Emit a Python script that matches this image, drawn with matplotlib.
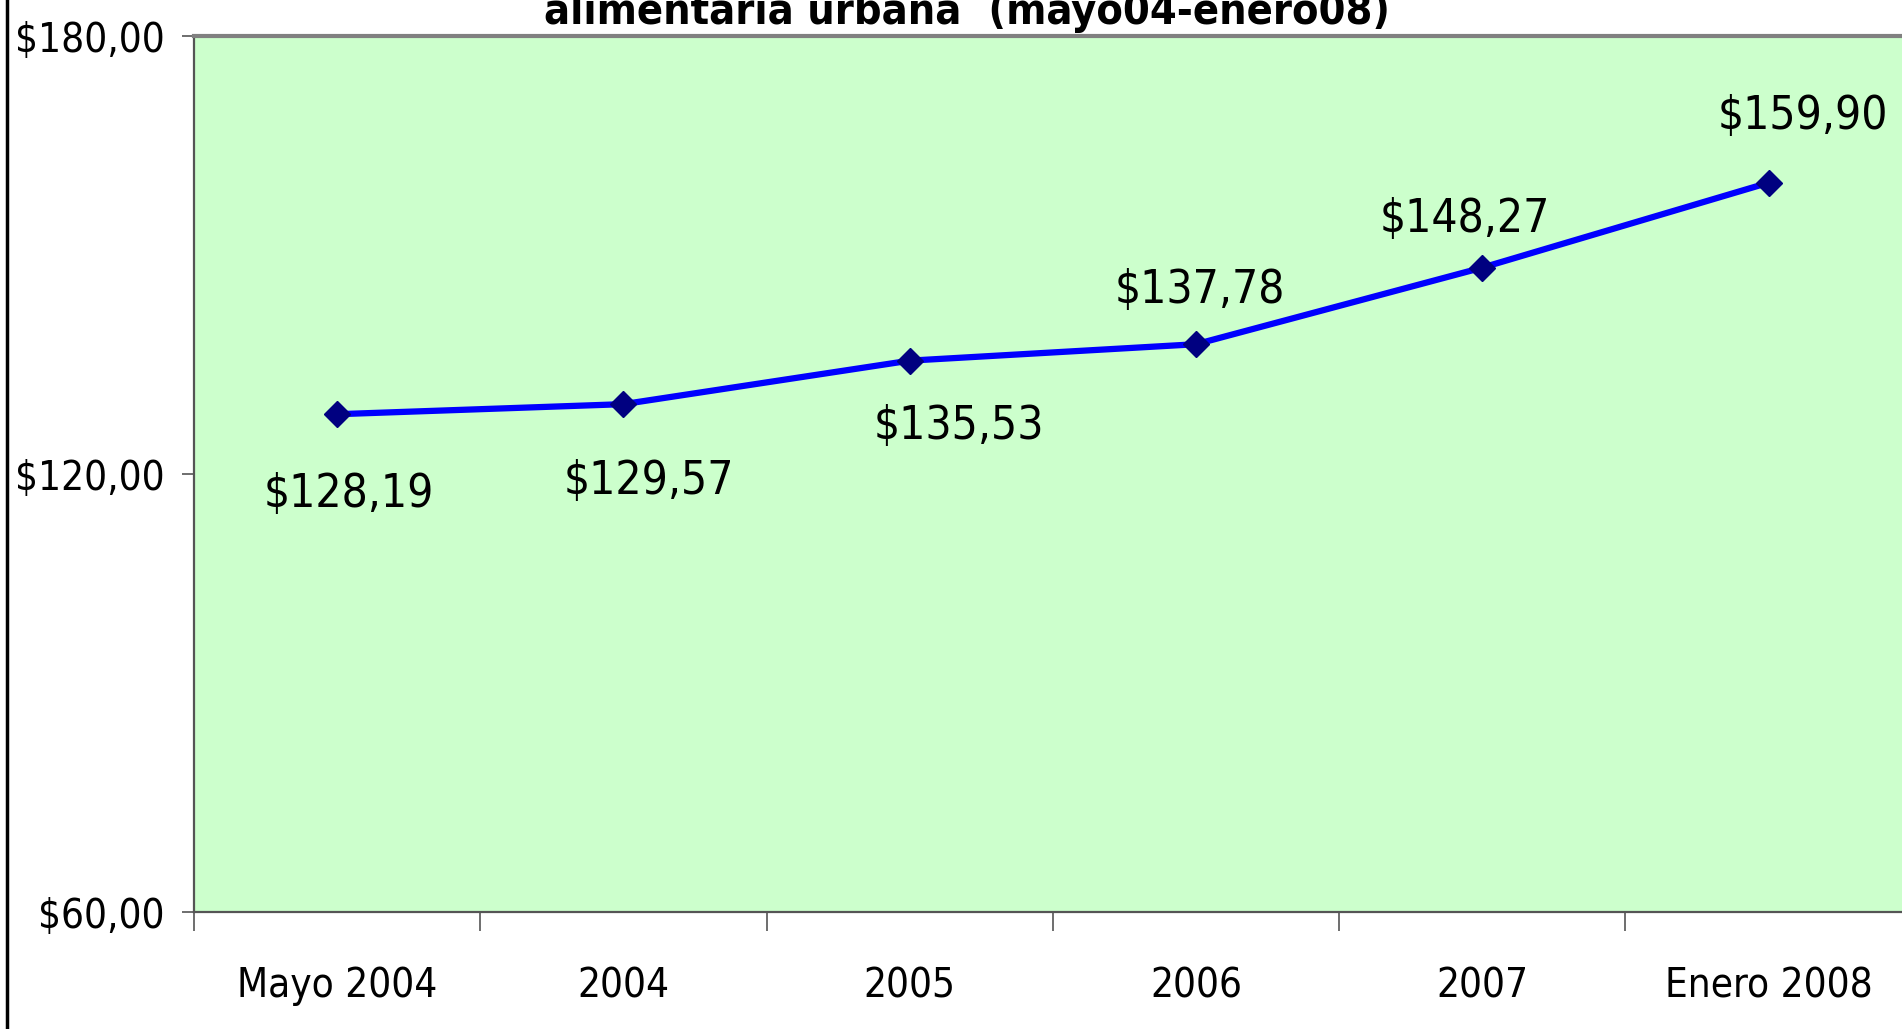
import numpy as np
import matplotlib.pyplot as plt

## datos
categorias = ['Mayo 2004', '2004', '2005', '2006', '2007', 'Enero 2008']
costo = [128.19, 129.57, 135.53, 137.78, 148.27, 159.90]
etiquetas = ['$128,19', '$129,57', '$135,53', '$137,78', '$148,27', '$159,90']
y_ticks = [60, 120, 180]
y_labels = ['$60,00', '$120,00', '$180,00']

# desplazamiento de cada etiqueta respecto al punto (pixeles)
offsets = [(12, -80), (25, -77), (49, -66), (4, 54), (-17, 48), (34, 66)]

fuente = dict(family='DejaVu Sans', stretch='condensed')

fig = plt.figure(figsize=(19.02, 10.29), dpi=100)
ax = fig.add_axes([0.102, 0.1137, 0.9031, 0.8513])
ax.set_facecolor('#CCFFCC')

x = np.arange(len(categorias))
ax.plot(x, costo, color='#0000FF', lw=4.5, marker='D', ms=13,
        mfc='#000080', mec='#000080', zorder=3)

for xi, yi, txt, (dx, dy) in zip(x, costo, etiquetas, offsets):
    ax.annotate(txt, (xi, yi), xytext=(dx, dy), textcoords='offset pixels',
                ha='center', va='center', fontsize=33, **fuente)

ax.set_xlim(-0.5, len(categorias) - 0.5)
ax.set_ylim(60, 180)
ax.set_yticks(y_ticks)
ax.set_yticklabels(y_labels, fontsize=29, **fuente)
ax.set_xticks(x)
ax.set_xticklabels(categorias, fontsize=29, **fuente)
ax.tick_params(axis='x', length=0, pad=39)
ax.set_xticks(np.arange(-0.5, len(categorias) - 0.5, 1), minor=True)
ax.tick_params(axis='x', which='minor', length=14, width=1.2, color='#555555')
ax.tick_params(axis='y', length=9, width=1.2, color='#555555', pad=12)

for lado in ['left', 'bottom']:
    ax.spines[lado].set_color('#555555')
    ax.spines[lado].set_linewidth(1.6)
ax.spines['top'].set_color('#808080')
ax.spines['top'].set_linewidth(3)
ax.spines['right'].set_visible(False)

# titulo (cortado arriba en la imagen original)
fig.text(0.5085, 1 - 24 / 1029, 'alimentaria urbana  (mayo04-enero08)',
         ha='center', va='baseline', fontsize=31, fontweight='bold', **fuente)

# linea negra del borde izquierdo
fig.add_artist(plt.Line2D([6.5 / 1902, 6.5 / 1902], [0, 1], color='black', lw=2.5,
                          transform=fig.transFigure))

fig.savefig('out.png', dpi=100)
